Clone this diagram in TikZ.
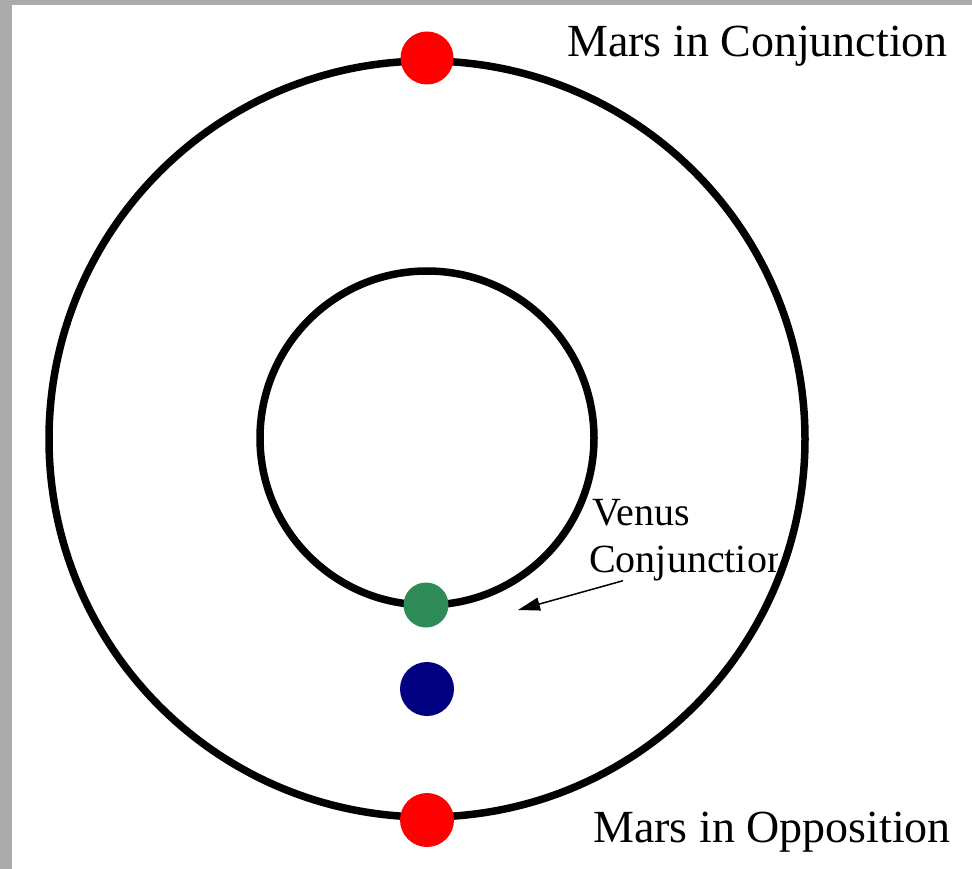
\documentclass[tikz,border=0pt]{standalone}
\usepackage{fontspec}
\setmainfont{Liberation Serif}
\usepackage{xcolor}
\usetikzlibrary{arrows.meta}
\definecolor{marsred}{RGB}{255,0,0}
\definecolor{venusgreen}{RGB}{46,139,87}
\definecolor{earthblue}{RGB}{0,0,128}
\definecolor{edgegray}{RGB}{171,171,171}

\begin{document}
\begin{tikzpicture}[x=1pt, y=-1pt,
  orbit/.style={draw=black, line width=7.5pt},
  planet/.style={circle, inner sep=0pt, minimum size=#1},
  lbl/.style={anchor=base west, inner sep=0pt, font=\fontsize{46}{54}\selectfont},
  vlbl/.style={anchor=base west, inner sep=0pt, font=\fontsize{40}{46}\selectfont}]
\useasboundingbox (0,0) rectangle (972,869);
\fill[edgegray] (0,0) rectangle (972,869);
\fill[white] (12,5) rectangle (972,869);
% orbits
\coordinate (sun) at (427,439);
\coordinate (vsun) at (427,438);
\draw[orbit] (sun) circle[radius=378pt];
\draw[orbit] (vsun) circle[radius=167pt];
% planets
\node[planet=53pt, fill=marsred] (marsconj) at (427,58) {};
\node[planet=54pt, fill=marsred] (marsopp) at (427,820) {};
\node[planet=45pt, fill=venusgreen] (venus) at (426,605) {};
\node[planet=54pt, fill=earthblue] (earth) at (427,689) {};
% labels
\node[lbl] (conjlbl) at (567,57) {Mars in Conjunction};
\node[lbl] (opplbl) at (593,842) {Mars in Opposition};
\node[vlbl] (venuslbl) at (592,525) {Venus};
\begin{scope}
  \clip (580,540) rectangle (777,592);
  \node[vlbl] (venusconj) at (589,572) {Conjunction};
\end{scope}
\coordinate (vtip) at (518,610);
\draw[-{Triangle[length=22pt,width=13pt]}, line width=1.5pt] ([xshift=34pt]venusconj.south west) -- (vtip);
\end{tikzpicture}
\end{document}
